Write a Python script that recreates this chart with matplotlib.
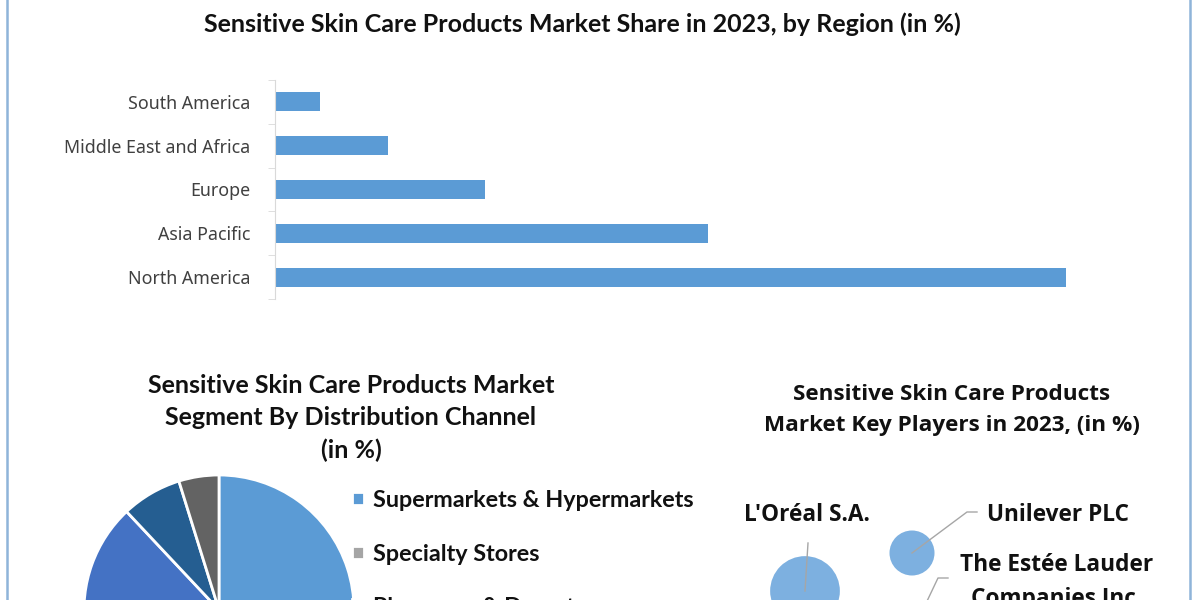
import matplotlib
matplotlib.use("Agg")
import matplotlib.pyplot as plt
from matplotlib.lines import Line2D

# ---------------- data ----------------
regions = ["North America", "Asia Pacific", "Europe", "Middle East and Africa", "South America"]
region_share = [49.7, 27.2, 13.2, 7.1, 2.8]

channels = ["Supermarkets & Hypermarkets", "Specialty Stores", "Pharmacy & Drugstores",
            "Online Stores", "Others"]
channel_share = [40.0, 18.0, 30.0, 7.2, 4.8]
channel_colors = ["#5B9BD5", "#A5A5A5", "#4472C4", "#255E91", "#636363"]

players = ["L'Oréal S.A.", "Unilever PLC", "The Estée Lauder\nCompanies Inc."]
player_x = [8.5, 19.2, 19.0]
player_y = [10.9, 14.7, 6.3]
player_share = [24, 10, 14]

title_top = "Sensitive Skin Care Products Market Share in 2023, by Region (in %)"
title_pie = "Sensitive Skin Care Products Market\nSegment By Distribution Channel\n(in %)"
title_players = "Sensitive Skin Care Products\nMarket Key Players in 2023, (in %)"

W, H = 1200, 600
fig = plt.figure(figsize=(12, 6), dpi=100)
fig.patch.set_facecolor("white")

def px(x0, y0, x1, y1):
    """pixel box (top-left origin) -> figure rect"""
    return [x0 / W, 1 - y1 / H, (x1 - x0) / W, (y1 - y0) / H]

# border lines
for xv in (7, 1190):
    fig.add_artist(Line2D([xv / W, xv / W], [0, 1], color="#8FB4D9", lw=1.8))

# ---------------- bar chart ----------------
fig.text(582 / W, 1 - 24 / H, title_top, ha="center", va="center",
         fontsize=18, fontweight="bold", family="Lato", color="#111111")

axb = fig.add_axes(px(275, 80, 1066, 299))
ypos = list(range(len(regions)))
axb.barh(ypos, region_share, height=0.43, color="#5B9BD5")
axb.set_xlim(0, max(region_share))
axb.set_ylim(-0.5, len(regions) - 0.5)
for s in ["top", "right", "bottom"]:
    axb.spines[s].set_visible(False)
axb.spines["left"].set_color("#D9D9D9")
axb.set_xticks([])
axb.set_yticks(ypos)
axb.set_yticklabels(regions, family="Noto Sans", fontsize=12.8, color="#404040")
axb.tick_params(axis="y", which="major", length=0, pad=18)
axb.set_yticks([i - 0.5 for i in range(len(regions) + 1)], minor=True)
axb.tick_params(axis="y", which="minor", length=5, color="#D9D9D9")
axb.set_facecolor("none")

# ---------------- pie chart ----------------
fig.text(351 / W, 1 - 418 / H, title_pie, ha="center", va="center",
         fontsize=18, fontweight="bold", family="Lato", color="#111111",
         linespacing=1.5)

axp = fig.add_axes(px(84, 475, 354, 745))
wedges, _ = axp.pie(channel_share, colors=channel_colors, startangle=90,
                    counterclock=False,
                    wedgeprops=dict(edgecolor="white", linewidth=2))
axp.set_xlim(-1, 1)
axp.set_ylim(-1, 1)
axp.set_aspect("equal")

fig.legend(wedges, channels, loc="upper left",
           bbox_to_anchor=(331 / W, 1 - 469 / H), frameon=False,
           prop=dict(family="Lato", weight="bold", size=16.8),
           handlelength=0.5, handleheight=0.5, handletextpad=0.4,
           labelspacing=1.4, labelcolor="#111111")

# ---------------- key players ----------------
fig.text(952 / W, 1 - 410 / H, title_players, ha="center", va="center",
         fontsize=16.2, fontweight="bold", family="Open Sans", color="#111111",
         linespacing=1.65)

axk = fig.add_axes(px(720, 470, 1190, 700))
axk.set_xlim(0, 47)
axk.set_ylim(0, 23)
axk.axis("off")
axk.scatter(player_x, player_y, s=[v * 105 for v in player_share],
            color="#7DB0E0", zorder=2, linewidths=0)

lc = "#A6A6A6"
fs_lab = 16.3
# leader lines
axk.plot([player_x[0], player_x[0] + 0.3], [player_y[0], 15.7], color=lc, lw=1, zorder=3)
axk.text(8.7, 18.5, players[0], ha="center", va="center", fontsize=fs_lab,
         fontweight="bold", family="Open Sans", color="#111111")
axk.plot([player_x[1], 24.7, 25.7], [player_y[1], 18.8, 18.8], color=lc, lw=1, zorder=3)
axk.text(26.7, 18.5, players[1], ha="left", va="center", fontsize=fs_lab,
         fontweight="bold", family="Open Sans", color="#111111")
axk.plot([player_x[2], 21.8, 22.8], [player_y[2], 12.2, 12.2], color=lc, lw=1, zorder=3)
axk.text(33.7, 11.8, players[2], ha="center", va="center", fontsize=fs_lab,
         fontweight="bold", family="Open Sans", color="#111111", linespacing=1.55)

fig.savefig("out.png", dpi=100, facecolor="white")
